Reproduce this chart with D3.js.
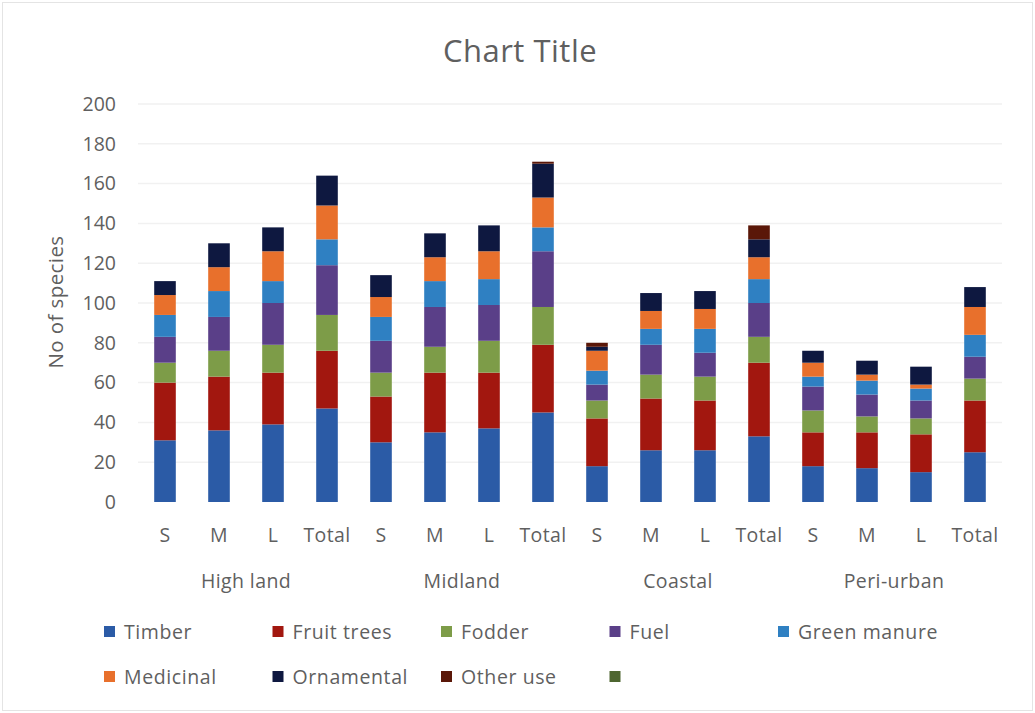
<!DOCTYPE html>
<html>
<head>
<meta charset="utf-8">
<script src="https://cdn.jsdelivr.net/npm/d3@7"></script>
<style>
  html, body { margin: 0; padding: 0; background: #ffffff; }
  svg { display: block; font-family: "Open Sans", Lato, "Liberation Sans", sans-serif; }
</style>
</head>
<body>
<div id="chart"></div>
<script>
// Sub-categories (farm size) within each zone
const categories = ["S", "M", "L", "Total", "S", "M", "L", "Total", "S", "M", "L", "Total", "S", "M", "L", "Total"];
const zones = ["High land", "Midland", "Coastal", "Peri-urban"];

// Number of species by use, one value per bar
const timber      = [31, 36, 39, 47, 30, 35, 37, 45, 18, 26, 26, 33, 18, 17, 15, 25];
const fruitTrees  = [29, 27, 26, 29, 23, 30, 28, 34, 24, 26, 25, 37, 17, 18, 19, 26];
const fodder      = [10, 13, 14, 18, 12, 13, 16, 19,  9, 12, 12, 13, 11,  8,  8, 11];
const fuel        = [13, 17, 21, 25, 16, 20, 18, 28,  8, 15, 12, 17, 12, 11,  9, 11];
const greenManure = [11, 13, 11, 13, 12, 13, 13, 12,  7,  8, 12, 12,  5,  7,  6, 11];
const medicinal   = [10, 12, 15, 17, 10, 12, 14, 15, 10,  9, 10, 11,  7,  3,  2, 14];
const ornamental  = [ 7, 12, 12, 15, 11, 12, 13, 17,  2,  9,  9,  9,  6,  7,  9, 10];
const otherUse    = [ 0,  0,  0,  0,  0,  0,  0,  1,  2,  0,  0,  7,  0,  0,  0,  0];
const unnamed     = [ 0,  0,  0,  0,  0,  0,  0,  0,  0,  0,  0,  0,  0,  0,  0,  0];

const seriesNames = ["Timber", "Fruit trees", "Fodder", "Fuel", "Green manure", "Medicinal", "Ornamental", "Other use", ""];
const seriesValues = [timber, fruitTrees, fodder, fuel, greenManure, medicinal, ornamental, otherUse, unnamed];
const seriesColors = ["#2b5ba6", "#a2170f", "#7d9c48", "#5a3f88", "#2f80c2", "#e8702c", "#0e1840", "#5a1708", "#4e6630"];

const yTicks = [0, 20, 40, 60, 80, 100, 120, 140, 160, 180, 200];

const W = 1035, H = 713;
const margin = { left: 138, right: 33, top: 104, bottom: 211 };
const textColor = "#5f5f5f";

const svg = d3.select("#chart").append("svg").attr("width", W).attr("height", H);

// frame
svg.append("rect").attr("x", 2.5).attr("y", 2.5).attr("width", W - 5).attr("height", H - 5)
  .attr("fill", "#ffffff").attr("stroke", "#e4e4e4").attr("stroke-width", 1);

const x = d3.scaleBand().domain(d3.range(categories.length))
  .range([margin.left, W - margin.right]).paddingInner(0.6).paddingOuter(0.3);
const y = d3.scaleLinear().domain([0, 200]).range([H - margin.bottom, margin.top]);

// rows for stacking
const keys = seriesNames.map((n, i) => "k" + i);
const rows = categories.map((c, j) => {
  const r = { idx: j };
  keys.forEach((k, i) => r[k] = seriesValues[i][j]);
  return r;
});
const stacked = d3.stack().keys(keys)(rows);

// faint gridlines
svg.append("g").selectAll("line").data(yTicks.filter(t => t > 0)).join("line")
  .attr("x1", margin.left).attr("x2", W - margin.right)
  .attr("y1", d => y(d)).attr("y2", d => y(d))
  .attr("stroke", "#f1f1f1").attr("stroke-width", 1.5);

// y axis labels
const yAxis = d3.axisLeft(y).tickValues(yTicks).tickSize(0).tickPadding(22);
const gy = svg.append("g").attr("transform", `translate(${margin.left},0)`).call(yAxis);
gy.select(".domain").remove();
gy.selectAll("text").attr("fill", textColor).style("font-size", "19.5px")
  .style("font-family", "'Open Sans', sans-serif");

// stacked bars
svg.append("g").selectAll("g").data(stacked).join("g")
  .attr("fill", (d, i) => seriesColors[i])
  .selectAll("rect").data(d => d).join("rect")
  .attr("x", d => x(d.data.idx))
  .attr("width", x.bandwidth())
  .attr("y", d => y(d[1]))
  .attr("height", d => Math.max(0, y(d[0]) - y(d[1])));

// category axis
const xAxis = d3.axisBottom(x).tickFormat(i => categories[i]).tickSize(0).tickPadding(26);
const gx = svg.append("g").attr("transform", `translate(0,${y(0)})`).call(xAxis);
gx.select(".domain").remove();
gx.selectAll("text").attr("fill", textColor).style("font-size", "19.5px")
  .style("letter-spacing", "0.4px").style("font-family", "'Open Sans', sans-serif");

// zone labels
svg.append("g").selectAll("text").data(zones).join("text")
  .attr("x", (d, i) => (x(i * 4) + x(i * 4 + 3) + x.bandwidth()) / 2)
  .attr("y", 588)
  .attr("text-anchor", "middle")
  .attr("fill", textColor).style("font-size", "19.5px").style("letter-spacing", "0.4px")
  .text(d => d);

// title
svg.append("text").attr("x", 520).attr("y", 62).attr("text-anchor", "middle")
  .attr("fill", textColor).style("font-size", "31px").style("letter-spacing", "0.5px")
  .text("Chart Title");

// y axis title
svg.append("text").attr("transform", "translate(63,302) rotate(-90)")
  .attr("text-anchor", "middle").attr("fill", textColor).style("font-size", "20.5px")
  .style("letter-spacing", "0.4px").text("No of species");

// legend
const legend = svg.append("g");
const legItems = legend.selectAll("g").data(seriesNames).join("g")
  .attr("transform", (d, i) => {
    const col = i < 5 ? i : i - 5;
    const row = i < 5 ? 0 : 1;
    return `translate(${104 + col * 168.5},${632 + row * 45})`;
  });
legItems.append("rect").attr("x", 0).attr("y", -6).attr("width", 11).attr("height", 11)
  .attr("fill", (d, i) => seriesColors[i]);
legItems.append("text").attr("x", 20).attr("y", 0).attr("dy", "0.35em")
  .attr("fill", textColor).style("font-size", "19.5px").style("letter-spacing", "0.6px")
  .text(d => d);
</script>
</body>
</html>
